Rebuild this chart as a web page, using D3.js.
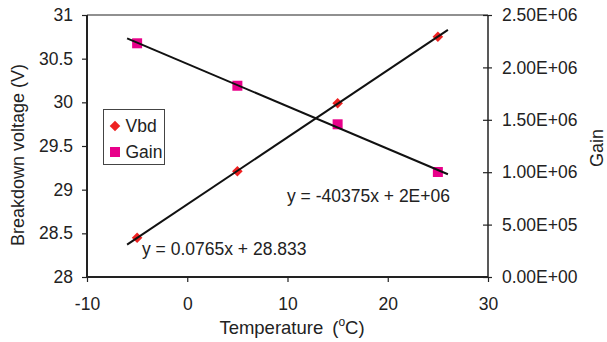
<!DOCTYPE html>
<html><head><meta charset="utf-8">
<script src="https://cdn.jsdelivr.net/npm/d3@7"></script>
<style>
body{margin:0;background:#fff;}
svg text{font-family:"Liberation Sans",Arial,sans-serif;fill:#222;}
</style></head>
<body><svg id="c" width="607" height="342"></svg>
<script>
const temps = [-5, 5, 15, 25];
const vbd = [28.45, 29.21, 29.99, 30.75];
const gain = [2230000, 1825000, 1457000, 1002000];
const xTicks = [-10, 0, 10, 20, 30];
const yLeftTicks = [28, 28.5, 29, 29.5, 30, 30.5, 31];
const yRightTicks = [0, 500000, 1000000, 1500000, 2000000, 2500000];
const yRightLabels = ["0.00E+00","5.00E+05","1.00E+06","1.50E+06","2.00E+06","2.50E+06"];
const seriesNames = ["Vbd", "Gain"];
const eqLabels = ["y = 0.0765x + 28.833", "y = -40375x + 2E+06"];
const trendRange = [-6, 26];

const FS = 17.5;
const svg = d3.select("#c");
const L = 87, R = 488, T = 15, B = 277;
const x = d3.scaleLinear().domain([-10, 30]).range([L, R]);
const yL = d3.scaleLinear().domain([28, 31]).range([B, T]);
const yR = d3.scaleLinear().domain([0, 2500000]).range([B, T]);

function fit(xs, ys){
  const mx = d3.mean(xs), my = d3.mean(ys);
  let num = 0, den = 0;
  xs.forEach((v,i)=>{num += (v-mx)*(ys[i]-my); den += (v-mx)*(v-mx);});
  const m = num/den; return {m, b: my - m*mx};
}

// top frame line
svg.append("line").attr("x1", L).attr("x2", R).attr("y1", T).attr("y2", T)
  .attr("stroke", "#222").attr("stroke-width", 1.2);

// axes
const gl = svg.append("g").attr("transform", `translate(${L},0)`)
  .call(d3.axisLeft(yL).tickValues(yLeftTicks).tickSize(5).tickPadding(9).tickFormat(d => String(d)));
const gb = svg.append("g").attr("transform", `translate(0,${B})`)
  .call(d3.axisBottom(x).tickValues(xTicks).tickSize(5).tickPadding(16).tickFormat(d => String(d)));
const gr = svg.append("g").attr("transform", `translate(${R},0)`)
  .call(d3.axisRight(yR).tickValues(yRightTicks).tickSize(4).tickPadding(10).tickFormat((d,i)=>yRightLabels[i]));
gr.selectAll(".tick line").attr("x1", -5).attr("x2", 4);

[gl, gb, gr].forEach(g => {
  g.select(".domain").attr("stroke", "#222");
  g.selectAll(".tick line").attr("stroke", "#222").attr("stroke-width", 1.2);
  g.selectAll("text").attr("font-size", FS).attr("font-family", '"Liberation Sans",Arial,sans-serif').attr("fill", "#222");
});
gl.select(".domain").attr("d", `M0,${T}V${B}`).attr("stroke-width", 2);
gb.select(".domain").attr("d", `M${L},0H${R}`).attr("stroke-width", 2.2);
gr.select(".domain").attr("d", `M0,${T}V${B}`).attr("stroke-width", 1.5);

// markers
const diamond = d3.symbol().type(d3.symbolSquare).size(56);
svg.append("g").selectAll("path").data(temps).join("path")
  .attr("d", diamond)
  .attr("transform", (d,i)=>`translate(${x(d)},${yL(vbd[i])}) rotate(45)`)
  .attr("fill", "#ee2222");
svg.append("g").selectAll("rect").data(temps).join("rect")
  .attr("x", d=>x(d)-5).attr("width", 10).attr("height", 10)
  .attr("y", (d,i)=>yR(gain[i])-5)
  .attr("fill", "#e8008a");

// trendlines
const fv = fit(temps, vbd), fg = fit(temps, gain);
svg.append("line")
  .attr("x1", x(trendRange[0])).attr("y1", yL(fv.m*trendRange[0]+fv.b))
  .attr("x2", x(trendRange[1])).attr("y2", yL(fv.m*trendRange[1]+fv.b))
  .attr("stroke", "#111").attr("stroke-width", 2);
svg.append("line")
  .attr("x1", x(trendRange[0])).attr("y1", yR(fg.m*trendRange[0]+fg.b))
  .attr("x2", x(trendRange[1])).attr("y2", yR(fg.m*trendRange[1]+fg.b))
  .attr("stroke", "#111").attr("stroke-width", 2);

// equations
svg.append("text").attr("x", 142).attr("y", 255).attr("font-size", FS).text(eqLabels[0]);
svg.append("text").attr("x", 287).attr("y", 202).attr("font-size", FS).text(eqLabels[1]);

// legend
svg.append("rect").attr("x", 103.5).attr("y", 109.5).attr("width", 61).attr("height", 55)
  .attr("fill", "#fff").attr("stroke", "#444").attr("stroke-width", 1);
svg.append("path").attr("d", diamond).attr("transform", "translate(115,126) rotate(45)").attr("fill", "#ee2222");
svg.append("rect").attr("x", 110).attr("y", 147).attr("width", 10).attr("height", 10).attr("fill", "#e8008a");
svg.append("text").attr("x", 125.5).attr("y", 132).attr("font-size", FS).text(seriesNames[0]);
svg.append("text").attr("x", 125.5).attr("y", 158).attr("font-size", FS).text(seriesNames[1]);

// axis titles
svg.append("text").attr("transform", `translate(24,155) rotate(-90)`)
  .attr("text-anchor", "middle").attr("font-size", 18).text("Breakdown voltage (V)");
svg.append("text").attr("transform", `translate(603,148) rotate(-90)`)
  .attr("text-anchor", "middle").attr("font-size", 18).text("Gain");
const xt = svg.append("text").attr("x", 292).attr("y", 334).attr("text-anchor", "middle").attr("font-size", 18.5);
xt.append("tspan").text("Temperature");
xt.append("tspan").attr("dx", 9).text("(");
xt.append("tspan").attr("dy", -8).attr("font-size", 12).text("o");
xt.append("tspan").attr("dy", 8).text("C)");
</script></body></html>
